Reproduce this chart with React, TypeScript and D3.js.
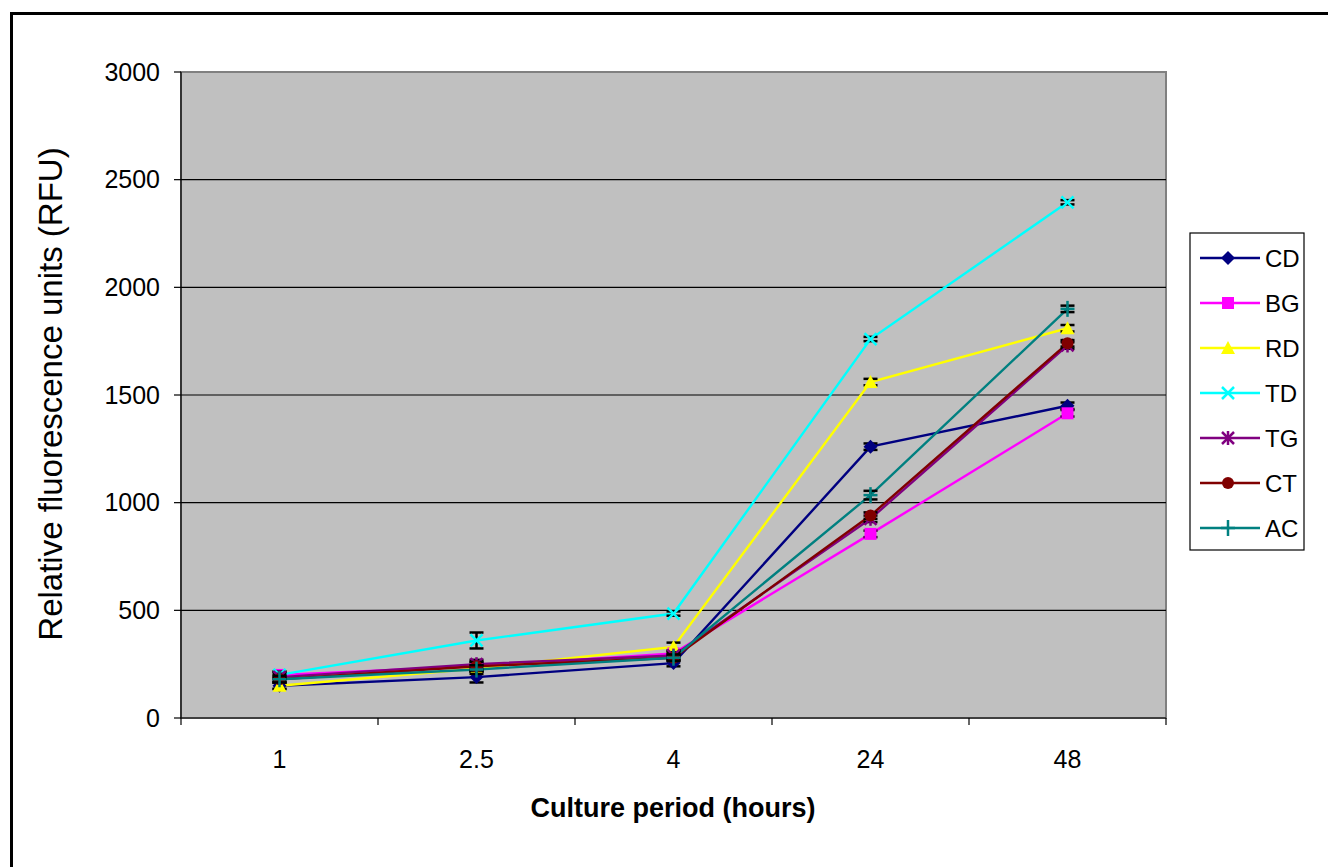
import React from "react";
import * as d3 from "d3";

const categories = ["1", "2.5", "4", "24", "48"];
const yTicks = [0, 500, 1000, 1500, 2000, 2500, 3000];
const seriesNames = ["CD", "BG", "RD", "TD", "TG", "CT", "AC"];
const seriesColors = ["#000080", "#FF00FF", "#FFFF00", "#00FFFF", "#800080", "#800000", "#008080"];
const seriesMarkers = ["diamond", "square", "triangle", "x", "star", "circle", "plus"];
const CD = [150, 190, 255, 1260, 1450];
const BG = [200, 240, 300, 855, 1415];
const RD = [150, 230, 330, 1560, 1810];
const TD = [200, 360, 485, 1760, 2395];
const TG = [190, 250, 290, 925, 1730];
const CT = [180, 240, 280, 940, 1740];
const AC = [180, 225, 280, 1035, 1900];
const CD_err = [15, 25, 15, 15, 15];
const BG_err = [15, 20, 15, 15, 15];
const RD_err = [15, 15, 20, 15, 15];
const TD_err = [15, 37, 10, 10, 10];
const TG_err = [15, 20, 15, 15, 15];
const CT_err = [15, 20, 15, 15, 15];
const AC_err = [15, 20, 15, 20, 15];
const seriesValues = [CD, BG, RD, TD, TG, CT, AC];
const seriesErrors = [CD_err, BG_err, RD_err, TD_err, TG_err, CT_err, AC_err];

const FONT = "'Liberation Sans', Arial, sans-serif";

function Marker({ type, x, y, color }: { type: string; x: number; y: number; color: string }) {
  const s = 6;
  switch (type) {
    case "diamond":
      return <path d={`M${x},${y - s - 1}L${x + s + 1},${y}L${x},${y + s + 1}L${x - s - 1},${y}Z`} fill={color} />;
    case "square":
      return <rect x={x - s} y={y - s} width={2 * s} height={2 * s} fill={color} />;
    case "triangle":
      return <path d={`M${x},${y - s - 1}L${x + s + 1},${y + s}L${x - s - 1},${y + s}Z`} fill={color} />;
    case "x":
      return (
        <g stroke={color} strokeWidth={2.5}>
          <line x1={x - s} y1={y - s} x2={x + s} y2={y + s} />
          <line x1={x - s} y1={y + s} x2={x + s} y2={y - s} />
        </g>
      );
    case "star":
      return (
        <g stroke={color} strokeWidth={2.5}>
          <line x1={x - s} y1={y - s} x2={x + s} y2={y + s} />
          <line x1={x - s} y1={y + s} x2={x + s} y2={y - s} />
          <line x1={x} y1={y - s - 1} x2={x} y2={y + s + 1} />
        </g>
      );
    case "circle":
      return <circle cx={x} cy={y} r={s} fill={color} />;
    case "plus":
      return (
        <g stroke={color} strokeWidth={2.5}>
          <line x1={x - s - 1} y1={y} x2={x + s + 1} y2={y} />
          <line x1={x} y1={y - s - 2} x2={x} y2={y + s + 2} />
        </g>
      );
    default:
      return null;
  }
}

export default function App() {
  const left = 181, right = 1166, top = 72, bottom = 718;
  const x = d3.scaleBand<string>().domain(categories).range([left, right]);
  const y = d3.scaleLinear().domain([0, 3000]).range([bottom, top]);
  const cx = (c: string) => (x(c) as number) + x.bandwidth() / 2;
  const line = d3
    .line<number>()
    .x((_, i) => cx(categories[i]))
    .y((d) => y(d));

  const boundaries = categories.map((c) => x(c) as number).concat([right]);

  const legendX = 1190, legendY = 233, legendW = 114, legendH = 317;
  const legendRow = (i: number) => legendY + 25 + i * 45;

  return (
    <svg width={1328} height={867} style={{ position: "absolute", left: 0, top: 0 }} fontFamily={FONT}>
      <rect x={0} y={0} width={1328} height={867} fill="#fff" />
      {/* outer frame */}
      <path d={`M11.5,880V13.5H1340`} fill="none" stroke="#000" strokeWidth={3} />
      {/* plot area */}
      <rect x={left} y={top} width={right - left} height={bottom - top} fill="#C0C0C0" stroke="#808080" strokeWidth={2} />
      {/* gridlines */}
      {yTicks.slice(1, -1).map((t) => (
        <line key={t} x1={left} x2={right} y1={y(t)} y2={y(t)} stroke="#000" strokeWidth={1.2} />
      ))}
      {/* axes */}
      <line x1={left} x2={left} y1={top} y2={bottom} stroke="#000" strokeWidth={1.2} />
      <line x1={left} x2={right} y1={bottom} y2={bottom} stroke="#000" strokeWidth={1.2} />
      {yTicks.map((t) => (
        <g key={t}>
          <line x1={left - 7} x2={left} y1={y(t)} y2={y(t)} stroke="#000" strokeWidth={1.2} />
          <text x={160} y={y(t)} dy="0.35em" textAnchor="end" fontSize={25} fill="#000">
            {t}
          </text>
        </g>
      ))}
      {boundaries.map((b, i) => (
        <line key={i} x1={b} x2={b} y1={bottom} y2={bottom + 7} stroke="#000" strokeWidth={1.2} />
      ))}
      {categories.map((c) => (
        <text key={c} x={cx(c)} y={768} textAnchor="middle" fontSize={25} fill="#000">
          {c}
        </text>
      ))}
      {/* axis titles */}
      <text x={673} y={817} textAnchor="middle" fontSize={27} fontWeight="bold" fill="#000">
        Culture period (hours)
      </text>
      <text
        transform={`translate(62,394) rotate(-90)`}
        textAnchor="middle"
        fontSize={33}
        fill="#000"
      >
        Relative fluorescence units (RFU)
      </text>
      {/* series */}
      {seriesNames.map((name, si) => (
        <g key={name}>
          <path d={line(seriesValues[si]) as string} fill="none" stroke={seriesColors[si]} strokeWidth={2.4} />
        </g>
      ))}
      {seriesNames.map((name, si) => (
        <g key={name + "m"}>
          {seriesValues[si].map((v, i) => {
            const px = cx(categories[i]);
            const e = seriesErrors[si][i];
            return (
              <g key={i}>
                <g stroke="#000" strokeWidth={2.5}>
                  <line x1={px} x2={px} y1={y(v + e)} y2={y(v - e)} />
                  <line x1={px - 7} x2={px + 7} y1={y(v + e)} y2={y(v + e)} />
                  <line x1={px - 7} x2={px + 7} y1={y(v - e)} y2={y(v - e)} />
                </g>
                <Marker type={seriesMarkers[si]} x={px} y={y(v)} color={seriesColors[si]} />
              </g>
            );
          })}
        </g>
      ))}
      {/* legend */}
      <rect x={legendX} y={legendY} width={legendW} height={legendH} fill="#fff" stroke="#000" strokeWidth={1.2} />
      {seriesNames.map((name, si) => {
        const ly = legendRow(si);
        return (
          <g key={name + "l"}>
            <line x1={1200} x2={1260} y1={ly} y2={ly} stroke={seriesColors[si]} strokeWidth={2.4} />
            <Marker type={seriesMarkers[si]} x={1228} y={ly} color={seriesColors[si]} />
            <text x={1265} y={ly} dy="0.36em" fontSize={24} fill="#000">
              {name}
            </text>
          </g>
        );
      })}
    </svg>
  );
}
